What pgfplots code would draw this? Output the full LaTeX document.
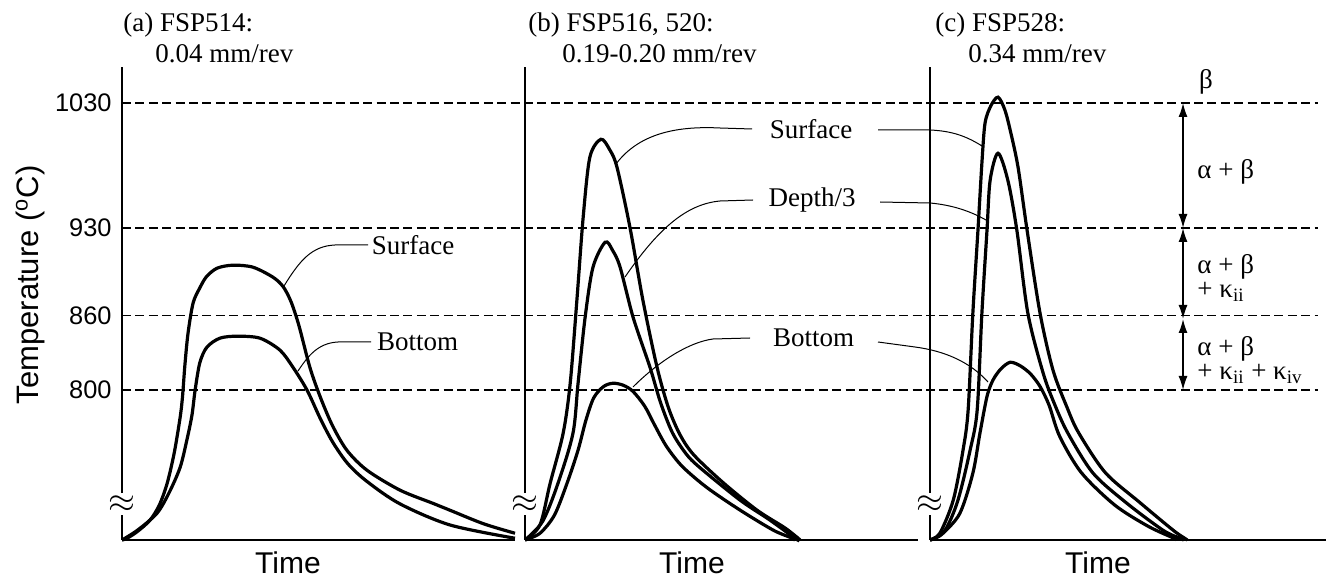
\documentclass[border=0pt]{standalone}
\usepackage{fontspec}
\setmainfont{Liberation Serif}
\setsansfont{Liberation Sans}
\usepackage{pgfplots}
\pgfplotsset{compat=1.18}
\usetikzlibrary{arrows.meta}

% one pixel of the reference = 0.5pt
\pgfplotsset{
  panel/.style={
    scale only axis, height=236.5pt, anchor=south west,
    xmin=0, xmax=100, ymin=680, ymax=1059,
    axis x line=bottom, axis y line=left,
    axis line style={-, line width=1.2pt},
    every outer x axis line/.append style={-},
    every outer y axis line/.append style={-},
    y axis line style={draw=none},
    xtick=\empty, ytick=\empty,
    major tick length=0pt,
    clip=false,
  },
  curve/.style={black, line width=1.6pt, smooth, tension=0.5, no marks},
  ref/.style={black, line width=0.8pt, dash pattern=on 4.5pt off 2.2pt, no marks, forget plot},
}
\newcommand{\yaxisbreak}{%
  \draw[line width=1.1pt] (axis cs:0,680) -- (axis cs:0,699.8);
  \draw[line width=1.1pt] (axis cs:0,717.5) -- (axis cs:0,1059);
  \node[inner sep=0pt, font=\fontsize{16}{16}\selectfont] at (axis cs:0,709) {$\approx$};
}

\begin{document}
\begin{tikzpicture}[x=0.5pt,y=0.5pt]
\tikzset{lbl/.style={font=\fontsize{13.5}{12}\selectfont, inner sep=0pt},
         lead/.style={line width=0.5pt},
         tim/.style={font=\sffamily\fontsize{15}{17}\selectfont, inner sep=0pt, anchor=base}}

% (a) FSP514
\begin{axis}[panel, at={(61pt,19pt)}, width=196.5pt,
    ytick={800,860,930,1030}, yticklabels={800,860,930,1030},
    yticklabel style={font=\sffamily\fontsize{12.7}{14}\selectfont, inner sep=0pt, xshift=-5pt}]
  \addplot[ref] coordinates {(0,1030) (304.3,1030)};
  \addplot[ref] coordinates {(0,930) (304.3,930)};
  \addplot[ref] coordinates {(0,860) (304.3,860)};
  \addplot[ref] coordinates {(0,800) (304.3,800)};
  % Surface
  \addplot[curve] table {
    0 680
    1.3 681.4
    4 687
    7.1 695.8
    9.5 708
    11.5 725.5
    13.3 750
    14.8 778.4
    15.4 795
    16.0 820
    16.8 845.7
    18.1 870
    19.8 882
    21.5 891
    24.2 897.8
    28.2 900.2
    33.3 898.6
    38.4 890.6
    41 883
    43 871
    45 852
    47.8 818.4
    50.4 795
    53.5 772
    57.2 752
    62.3 736
    70.7 720
    79.1 709.4
    83.5 703.8
    92 693
    100 685.4
  };
  % Bottom
  \addplot[curve] table {
    0 680
    4 688
    8.9 701.4
    12 718
    14.8 738.3
    16.5 760
    17.8 780
    18.6 800
    19.8 822
    21.6 834.5
    24.9 841.7
    29.3 843.3
    35.1 841.7
    40.2 832.1
    43.5 818.4
    47.1 800
    50.5 777
    53.7 758
    57.5 741
    62.3 727
    70.7 709
    83.5 692
    100 681.4
  };
  \yaxisbreak
\end{axis}

% (b) FSP516, 520
\begin{axis}[panel, at={(262.5pt,19pt)}, width=196.5pt]
  % Surface
  \addplot[curve] table {
    0 680
    3.8 692
    6.4 725.5
    9.7 765.5
    11.5 805.6
    13.2 872.1
    14.8 938.6
    16.5 986.7
    19.3 1001.1
    21.5 993
    23.4 978.7
    26.7 930.6
    30.0 872.1
    33.6 818.4
    36.5 786
    39.5 764
    43 748
    50.4 726
    59.0 704
    66 690
    69.2 682.2
    70 680
  };
  % Depth/3
  \addplot[curve] table {
    0 680
    4.5 695
    8.4 725.5
    12.2 765.5
    13.5 805.6
    15.3 858.5
    17.3 898.6
    20.4 918.6
    22.3 912
    24.2 898.6
    27.5 858.5
    31.8 818.4
    34.5 790
    37.5 766
    41 749
    44.5 738
    54.7 712
    62.3 696
    68.7 681.4
    69.5 680
  };
  % Bottom
  \addplot[curve] table {
    0 680
    3.8 685.4
    7.5 700
    10.7 725.5
    13.5 752
    15.5 776
    17.5 794
    20 803
    22.4 805.6
    25 804
    27.5 799
    30.5 787
    33 772
    36 755
    40 739
    46.3 722
    54.7 704
    63.1 688
    67.4 682.2
    68.7 680
  };
  \yaxisbreak
\end{axis}

% (c) FSP528
\begin{axis}[panel, at={(465pt,19pt)}, width=198pt, xmax=100.76]
  % Surface
  \addplot[curve] table {
    0 680
    2.5 685.4
    5.9 711.8
    8.4 751.9
    9.7 784
    10.9 861.7
    12.2 928.2
    13.2 981.9
    14.0 1014
    15.5 1028
    17.3 1034.8
    19 1025
    20.4 1008.4
    22.4 978.7
    24.7 928.2
    28.0 861.7
    31.3 816
    34.9 786
    37.8 766
    44.6 734
    53.4 710
    61.8 688
    64.8 681.4
    65.5 680
  };
  % Depth/3
  \addplot[curve] table {
    0 680
    3.8 687.8
    7.1 711.8
    10.2 751.9
    12.0 784
    13.2 861.7
    14.5 928.2
    15.3 968.3
    17.3 989.9
    19.8 968.3
    22.1 928.2
    24.9 861.7
    28.8 813.6
    31.8 788
    35.1 765.5
    41.5 733.5
    50.1 709.4
    59.3 687.8
    63.6 681.4
    64.6 680
  };
  % Bottom
  \addplot[curve] table {
    0 680
    1.3 681.4
    3.3 685.4
    7.6 701.4
    10.9 733.5
    12.7 765.5
    14.5 795
    16 808
    18 817
    20.4 822.4
    23 819.5
    25.6 813
    28 803
    30.3 788
    33 763
    38.5 734
    47 708
    55.5 691
    62 681.5
    62.8 680
  };
  \yaxisbreak
\end{axis}

% panel titles
\node[lbl, anchor=base west] at (123,546) {(a) FSP514:};
\node[lbl, anchor=base west] at (155,515) {0.04 mm/rev};
\node[lbl, anchor=base west] at (528,546) {(b) FSP516, 520:};
\node[lbl, anchor=base west] at (562,515) {0.19-0.20 mm/rev};
\node[lbl, anchor=base west] at (935,546) {(c) FSP528:};
\node[lbl, anchor=base west] at (968,515) {0.34 mm/rev};

% axis labels
\node[tim] at (288,5) {Time};
\node[tim] at (692,5) {Time};
\node[tim] at (1098,5) {Time};
\node[font=\sffamily\fontsize{15.5}{18}\selectfont, rotate=90, inner sep=0pt] at (30,293) {Temperature (\textsuperscript{o}C)};

% panel (a) labels
\node[lbl] at (413,333) {Surface};
\draw[lead] (368,333) -- (335,333) .. controls (312,332) and (300,318) .. (284,292);
\node[lbl] at (417.5,236) {Bottom};
\draw[lead] (371,236) -- (338,236) .. controls (318,235) and (308,222) .. (298,207);

% panel (b) labels and leaders into (c)
\node[lbl] at (811,449) {Surface};
\draw[lead] (752,449) -- (720,450) .. controls (680,452) and (640,446) .. (616,414);
\draw[lead] (878,448) -- (930,448) .. controls (952,447) and (966,442) .. (982,432);
\node[lbl] at (812,378) {Depth/3};
\draw[lead] (753,378) -- (720,377) .. controls (688,374) and (660,352) .. (625,301);
\draw[lead] (880,376) -- (930,375) .. controls (952,373) and (970,367) .. (986,358);
\node[lbl] at (813.5,240) {Bottom};
\draw[lead] (750,240) -- (713,239) .. controls (690,236) and (660,218) .. (633,191);
\draw[lead] (878,236) -- (915,231) .. controls (945,227) and (970,216) .. (988,196);

% phase ranges
\node[lbl, anchor=center] at (1206,496) {β};
\draw[line width=0.7pt, {Latex[length=7pt,width=4.5pt]}-{Latex[length=7pt,width=4.5pt]}] (1183,475) -- (1183,350);
\draw[line width=0.7pt, {Latex[length=7pt,width=4.5pt]}-{Latex[length=7pt,width=4.5pt]}] (1183,350) -- (1183,259);
\draw[line width=0.7pt, {Latex[length=7pt,width=4.5pt]}-{Latex[length=7pt,width=4.5pt]}] (1183,259) -- (1183,188);
\node[lbl, anchor=west] at (1197,406) {α + β};
\node[lbl, anchor=north west, align=left] at (1197,324) {α + β\\+ κ\textsubscript{ii}};
\node[lbl, anchor=north west, align=left] at (1197,242) {α + β\\+ κ\textsubscript{ii} + κ\textsubscript{iv}};

\pgfresetboundingbox
\path[use as bounding box] (0,0) rectangle (1326,578);
\end{tikzpicture}
\end{document}
